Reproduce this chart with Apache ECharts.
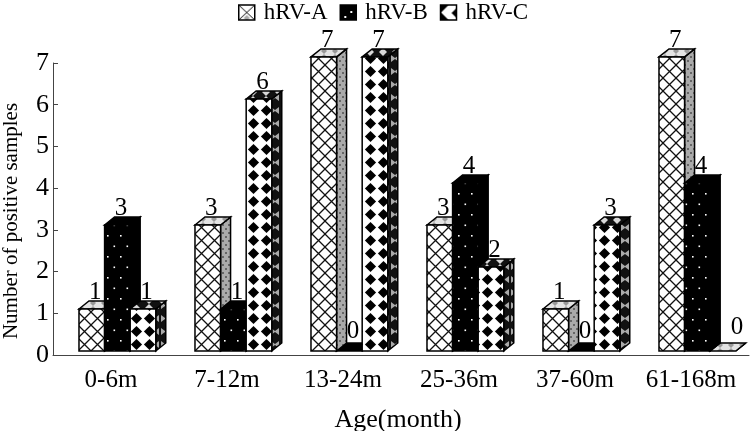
<!DOCTYPE html>
<html>
<head>
<meta charset="utf-8">
<style>html,body{margin:0;padding:0;background:#fff}#c{width:750px;height:431px}</style>
<script src="https://cdn.jsdelivr.net/npm/echarts@6/dist/echarts.min.js"></script>
</head>
<body>
<div id="c"></div>
<script>
const categories = ['0-6m', '7-12m', '13-24m', '25-36m', '37-60m', '61-168m'];
const hrvA = [1, 3, 7, 3, 1, 7];
const hrvB = [3, 1, 0, 4, 0, 4];
const hrvC = [1, 6, 7, 2, 3, 0];
const seriesNames = ['hRV-A', 'hRV-B', 'hRV-C'];
const FONT = '"Liberation Serif", serif';

function tile(w, h, draw) {
  const c = document.createElement('canvas');
  c.width = w; c.height = h;
  draw(c.getContext('2d'), w, h);
  return { image: c, repeat: 'repeat' };
}
function diamond(g, x, y, r) {
  g.beginPath(); g.moveTo(x, y - r); g.lineTo(x + r, y); g.lineTo(x, y + r); g.lineTo(x - r, y); g.closePath(); g.fill();
}
const lattice = tile(13, 13, (g, w, h) => {
  g.fillStyle = '#fff'; g.fillRect(0, 0, w, h);
  g.strokeStyle = '#111'; g.lineWidth = 1.3;
  g.beginPath();
  g.moveTo(0, 0); g.lineTo(13, 13);
  g.moveTo(13, 0); g.lineTo(0, 13);
  g.stroke();
});
const dots = tile(13, 21, (g, w, h) => {
  g.fillStyle = '#000'; g.fillRect(0, 0, w, h);
  g.fillStyle = '#fff';
  g.fillRect(3, 4, 1.6, 1.6);
  g.fillRect(9.5, 14.5, 1.6, 1.6);
});
const diamonds = tile(13, 13, (g, w, h) => {
  g.fillStyle = '#fff'; g.fillRect(0, 0, w, h);
  g.fillStyle = '#000';
  diamond(g, 6.5, 6.5, 5.6);
});
const greySide = tile(6, 8, (g, w, h) => {
  g.fillStyle = '#aaa'; g.fillRect(0, 0, w, h);
  g.fillStyle = '#666';
  g.fillRect(0, 0, 2, 2); g.fillRect(3, 4, 2, 2);
});
const greyTop = tile(11, 6, (g, w, h) => {
  g.fillStyle = '#e4e4e4'; g.fillRect(0, 0, w, h);
  g.fillStyle = '#999';
  diamond(g, 5, 3, 3);
});
const bowSide = tile(10, 13, (g, w, h) => {
  g.fillStyle = '#111'; g.fillRect(0, 0, w, h);
  g.fillStyle = '#aaa';
  g.beginPath(); g.moveTo(1, 3); g.lineTo(5, 6); g.lineTo(9, 3); g.lineTo(9, 10); g.lineTo(5, 7); g.lineTo(1, 10); g.closePath(); g.fill();
});
const bowTop = tile(13, 8, (g, w, h) => {
  g.fillStyle = '#111'; g.fillRect(0, 0, w, h);
  g.fillStyle = '#d8d8d8';
  diamond(g, 6, 4, 4);
});

const looks = [
  { front: lattice, side: greySide, top: greyTop },
  { front: dots, side: '#000', top: '#000' },
  { front: diamonds, side: bowSide, top: bowTop }
];
const legendIcons = [
  tile(16, 15, (g) => { g.fillStyle = '#fff'; g.fillRect(0, 0, 16, 15); g.strokeStyle = '#111'; g.lineWidth = 1; g.beginPath(); g.moveTo(0, 0); g.lineTo(16, 15); g.moveTo(16, 0); g.lineTo(0, 15); g.stroke(); g.fillStyle = '#aaa'; diamond(g, 8, 13, 3); }),
  tile(16, 15, (g) => { g.fillStyle = '#000'; g.fillRect(0, 0, 16, 15); g.fillStyle = '#fff'; g.fillRect(4, 11, 2, 2); g.fillRect(10, 6, 2, 2); }),
  tile(16, 15, (g) => { g.fillStyle = '#fff'; g.fillRect(0, 0, 16, 15); g.fillStyle = '#000'; diamond(g, 0, 0, 8); diamond(g, 0, 15, 8); diamond(g, 16, 8, 5); })
];

function makeRenderer(k) {
  return function (params, api) {
    const i = api.value(0), v = api.value(1);
    const band = api.size([1, 0])[0];
    const base = api.coord([i, 0]);
    const w = band * 0.2207, dx = band * 0.086, dy = 8;
    const x0 = base[0] + band * (-0.276 + k * 0.2207);
    const y0 = base[1] - 4;
    const y1 = y0 - (base[1] - api.coord([i, v])[1]) * 1.007;
    const x1 = x0 + w;
    const z2 = v === 0 ? 0 : 1;
    const stroke = { stroke: '#000', lineWidth: 1.5, lineJoin: 'miter' };
    const poly = (points, fill) => ({
      type: 'polygon', z2, shape: { points },
      style: Object.assign({ fill }, stroke)
    });
    const lastZero = v === 0 && k === 2;
    const zero = v === 0;
    const children = [
      poly([[x1, y0], [x1 + dx, y0 - dy], [x1 + dx, y1 - dy], [x1, y1]], looks[k].side),
      poly([[x0, y1], [x0 + dx, y1 - dy], [x1 + dx, y1 - dy], [x1, y1]], lastZero ? greyTop : looks[k].top)
    ];
    if (y0 - y1 > 1) children.push(poly([[x0, y0], [x1, y0], [x1, y1], [x0, y1]], looks[k].front));
    children.push({
      type: 'text', z2: 10,
      style: {
        text: String(v), x: x0 + w / 2 + (lastZero ? 14 : 3.5),
        y: y1 - dy + (lastZero ? -3 : zero ? 1 : 4),
        font: '25px ' + FONT, fill: '#000', align: 'center', verticalAlign: 'bottom'
      }
    });
    return { type: 'group', children };
  };
}

const values = [hrvA, hrvB, hrvC];
const chart = echarts.init(document.getElementById('c'), null, { renderer: 'canvas' });
chart.setOption({
  animation: false,
  backgroundColor: '#fff',
  grid: { left: 53, right: 1, top: 63, bottom: 76, outerBoundsMode: 'none' },
  legend: {
    left: 238, top: 1, padding: 0, itemWidth: 16, itemHeight: 15, itemGap: 12,
    textStyle: { fontFamily: FONT, fontSize: 23, color: '#000', padding: [0, 0, 0, 4] },
    data: seriesNames.map((name, k) => ({
      name, icon: 'rect',
      itemStyle: { color: legendIcons[k], borderColor: '#000', borderWidth: 1.5 }
    }))
  },
  xAxis: {
    type: 'category', data: categories, boundaryGap: true,
    name: 'Age(month)', nameLocation: 'middle', nameGap: 52,
    nameTextStyle: { fontFamily: FONT, fontSize: 26, color: '#000', padding: [0, 6, 0, 0] },
    axisLine: { lineStyle: { color: '#444', width: 1 } },
    axisTick: { inside: true, length: 5, lineStyle: { color: '#444' } },
    axisLabel: { interval: 0, hideOverlap: false, fontFamily: FONT, fontSize: 25, color: '#000', margin: 13 }
  },
  yAxis: {
    type: 'value', min: 0, max: 7, interval: 1,
    name: 'Number of positive samples', nameLocation: 'middle', nameRotate: 90, nameGap: 31,
    nameTextStyle: { fontFamily: FONT, fontSize: 21, color: '#000', padding: [0, 24, 0, 0] },
    splitLine: { show: false },
    axisLine: { show: true, lineStyle: { color: '#444', width: 1 } },
    axisTick: { show: true, inside: true, length: 5, lineStyle: { color: '#444' } },
    axisLabel: { fontFamily: FONT, fontSize: 26, color: '#000', margin: 4 }
  },
  series: seriesNames.map((name, k) => ({
    name, type: 'custom', coordinateSystem: 'cartesian2d',
    encode: { x: 0, y: 1 }, clip: false, silent: true,
    itemStyle: { color: legendIcons[k] },
    renderItem: makeRenderer(k),
    data: values[k].map((v, i) => [i, v])
  }))
});
</script>
</body>
</html>
